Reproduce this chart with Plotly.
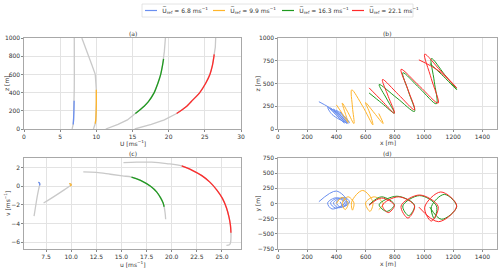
import plotly.graph_objects as go

# ---------------- data ----------------
series_labels = ["6.8", "9.9", "16.3", "22.1"]
colors = ["#6a8ff0", "#ffb52a", "#1f9a1f", "#ff2a2a"]
gray = "#c9c9c9"

# (a) wind-speed profiles U(z)
a_blue_z = [0, 25, 50, 100, 200, 310, 450, 600, 800, 1000]
a_blue_U = [6.65, 6.75, 6.8, 6.85, 6.9, 6.93, 6.95, 6.96, 6.96, 6.95]
a_orange_z = [0, 25, 60, 100, 200, 300, 430, 500, 600, 700, 800, 900, 1000]
a_orange_U = [9.6, 9.75, 9.85, 9.92, 9.98, 10.0, 10.0, 9.98, 9.85, 9.4, 8.9, 8.45, 8.0]
a_green_z = [0, 25, 50, 100, 170, 250, 300, 400, 500, 600, 700, 770, 850, 1000]
a_green_U = [11.3, 12.2, 13.0, 14.3, 15.4, 16.6, 17.2, 18.0, 18.5, 18.9, 19.15, 19.3, 19.4, 19.55]
a_red_z = [0, 25, 50, 100, 170, 250, 300, 400, 500, 600, 700, 820, 900, 1000]
a_red_U = [15.3, 16.6, 17.6, 19.4, 21.1, 22.5, 23.1, 24.3, 25.1, 25.7, 26.05, 26.3, 26.45, 26.5]
rotor_bottom = [50, 60, 170, 170]
rotor_top = [310, 430, 770, 820]

# (c) hodographs u-v ; colored part between index bounds
c_blue_u = [6.3, 6.45, 6.6, 6.75, 6.85, 6.87, 6.82, 6.72]
c_blue_v = [-3.2, -2.2, -1.2, -0.35, 0.1, 0.25, 0.38, 0.42]
c_orange_u = [7.25, 8.0, 9.0, 9.9, 10.0, 9.95, 9.8]
c_orange_v = [-1.8, -1.3, -0.6, 0.05, 0.15, 0.25, 0.28]
c_green_u = [11.2, 12.5, 13.9, 15.1, 16.0, 16.9, 17.9, 18.5, 18.9, 19.15, 19.25, 19.35, 19.4]
c_green_v = [1.55, 1.5, 1.3, 1.12, 1.0, 0.65, 0.0, -0.6, -1.25, -1.8, -2.2, -2.9, -3.55]
c_red_u = [15.2, 16.5, 18.0, 19.5, 21.0, 22.0, 23.0, 23.8, 24.5, 25.05, 25.45, 25.7, 25.85, 25.9, 25.9, 25.85, 25.75, 25.45]
c_red_v = [2.55, 2.6, 2.6, 2.45, 2.2, 1.75, 1.15, 0.45, -0.4, -1.3, -2.3, -3.3, -4.2, -5.0, -5.6, -6.1, -6.3, -6.35]
c_colored_range = [(4, 7), (3, 6), (4, 10), (4, 13)]

# (b),(d) trajectories x, y, z [m]
t_blue_x = [280, 400, 470, 370, 340, 400, 455, 395, 360, 415, 470, 415, 380, 435, 480, 430, 400, 455, 490, 450, 425]
t_blue_y = [30, 205, 40, -90, 10, 95, 10, -75, 10, 90, 10, -70, 10, 90, 15, -65, 20, 100, 25, -50, 30]
t_blue_z = [300, 185, 70, 160, 240, 155, 65, 160, 230, 150, 60, 150, 220, 145, 60, 145, 205, 140, 70, 135, 190]
t_orange_x = [400, 440, 480, 460, 440, 480, 520, 510, 505, 580, 650, 630, 600, 660, 720, 690]
t_orange_y = [0, 100, 0, -100, 10, 110, 10, -110, 30, 215, 20, -130, 10, 110, 0, -100]
t_orange_z = [265, 170, 70, 175, 285, 180, 60, 240, 430, 250, 45, 170, 290, 175, 60, 170]
t_green_x = [624, 710, 797, 745, 693, 815, 935, 895, 855, 970, 1085, 1070, 1051, 1140, 1224, 1120, 1040]
t_green_y = [-20, 110, -20, -130, -20, 120, -30, -200, -40, 130, -40, -250, -50, 150, -50, -260, -60]
t_green_z = [396, 285, 174, 330, 489, 340, 193, 405, 618, 448, 278, 525, 774, 600, 433, 600, 720]
t_red_x = [624, 710, 797, 755, 716, 825, 935, 890, 843, 970, 1097, 1050, 1005, 1115, 1224, 1100, 965]
t_red_y = [-30, 90, -30, -150, -30, 110, -40, -240, -40, 140, -50, -290, -60, 190, -40, -300, -60]
t_red_z = [452, 313, 174, 359, 544, 378, 211, 433, 656, 470, 285, 553, 822, 637, 452, 640, 760]

# ---------------- figure ----------------
fig = go.Figure()

a_profiles = [(a_blue_U, a_blue_z), (a_orange_U, a_orange_z), (a_green_U, a_green_z), (a_red_U, a_red_z)]
for i, (U, z) in enumerate(a_profiles):
    fig.add_trace(go.Scatter(x=U, y=z, mode="lines", line=dict(color=gray, width=1.3),
                             xaxis="x", yaxis="y", showlegend=False, hoverinfo="skip"))
    sel = [k for k in range(len(z)) if rotor_bottom[i] <= z[k] <= rotor_top[i]]
    fig.add_trace(go.Scatter(x=[U[k] for k in sel], y=[z[k] for k in sel], mode="lines",
                             line=dict(color=colors[i], width=1.3, shape="spline"),
                             xaxis="x", yaxis="y", showlegend=False))

c_curves = [(c_blue_u, c_blue_v), (c_orange_u, c_orange_v), (c_green_u, c_green_v), (c_red_u, c_red_v)]
for i, (u, v) in enumerate(c_curves):
    fig.add_trace(go.Scatter(x=u, y=v, mode="lines", line=dict(color=gray, width=1.3, shape="spline"),
                             xaxis="x3", yaxis="y3", showlegend=False, hoverinfo="skip"))
    s, e = c_colored_range[i]
    fig.add_trace(go.Scatter(x=u[s:e + 1], y=v[s:e + 1], mode="lines",
                             line=dict(color=colors[i], width=1.3, shape="spline"),
                             xaxis="x3", yaxis="y3", showlegend=False))

trajs = [(t_blue_x, t_blue_y, t_blue_z), (t_orange_x, t_orange_y, t_orange_z),
         (t_green_x, t_green_y, t_green_z), (t_red_x, t_red_y, t_red_z)]
for i, (x, y, z) in enumerate(trajs):
    fig.add_trace(go.Scatter(x=x, y=z, mode="lines",
                             line=dict(color=colors[i], width=1.0, shape="spline", smoothing=1.0),
                             xaxis="x2", yaxis="y2", showlegend=False))
    fig.add_trace(go.Scatter(x=x, y=y, mode="lines",
                             line=dict(color=colors[i], width=1.0, shape="spline", smoothing=1.0),
                             xaxis="x4", yaxis="y4", showlegend=False))

W, H = 500, 268
def px_x(p):
    return p / W
def px_y(p):
    return 1 - p / H

left_dom = [px_x(24), px_x(241)]
right_dom = [px_x(278), px_x(497)]
top_dom = [px_y(129), px_y(38)]
bot_dom = [px_y(249), px_y(158)]

tickfont = dict(family="DejaVu Sans", size=6, color="#333")
def ax(domain, rng, anchor, **kw):
    d = dict(domain=domain, range=rng, anchor=anchor, showline=True, mirror=True,
             linecolor="#a8a8a8", linewidth=1.2, showgrid=True, gridcolor="#e3e3e3",
             gridwidth=0.8, zeroline=False, ticks="outside", ticklen=1.5, tickwidth=0.6,
             tickcolor="#888", tickfont=tickfont, automargin=False)
    d.update(kw)
    return d

fig.update_layout(
    width=W, height=H, margin=dict(l=0, r=0, t=0, b=0),
    paper_bgcolor="white", plot_bgcolor="white", showlegend=False,
    xaxis=ax(left_dom, [0, 30], "y", tickvals=[0, 5, 10, 15, 20, 25, 30]),
    yaxis=ax(top_dom, [0, 1000], "x", tickvals=[0, 200, 400, 600, 800, 1000]),
    xaxis2=ax(right_dom, [0, 1500], "y2", tickvals=[0, 200, 400, 600, 800, 1000, 1200, 1400]),
    yaxis2=ax(top_dom, [0, 1000], "x2", tickvals=[0, 250, 500, 750, 1000]),
    xaxis3=ax(left_dom, [5.3, 26.9], "y3", tickvals=[7.5, 10, 12.5, 15, 17.5, 20, 22.5, 25],
              ticktext=["7.5", "10.0", "12.5", "15.0", "17.5", "20.0", "22.5", "25.0"]),
    yaxis3=ax(bot_dom, [-6.75, 3.05], "x3", tickvals=[-6, -4, -2, 0, 2],
              ticktext=["\u22126", "\u22124", "\u22122", "0", "2"]),
    xaxis4=ax(right_dom, [0, 1500], "y4", tickvals=[0, 200, 400, 600, 800, 1000, 1200, 1400]),
    yaxis4=ax(bot_dom, [-750, 750], "x4", tickvals=[-750, -500, -250, 0, 250, 500, 750],
              ticktext=["\u2212750", "\u2212500", "\u2212250", "0", "250", "500", "750"]),
)

txt = dict(family="DejaVu Sans", size=6, color="#333")
annots = [
    ("(a)", (24 + 241) / 2, 33.5, 0), ("(b)", (278 + 497) / 2, 33.5, 0),
    ("(c)", (24 + 241) / 2, 153, 0), ("(d)", (278 + 497) / 2, 153, 0),
    ("U [ms<sup>\u22121</sup>]", (24 + 241) / 2, 142.5, 0), ("x [m]", (278 + 497) / 2, 142.5, 0),
    ("u [ms<sup>\u22121</sup>]", (24 + 241) / 2, 263.5, 0), ("x [m]", (278 + 497) / 2, 263, 0),
    ("z [m]", 6.5, (38 + 129) / 2, -90), ("z [m]", 257, (38 + 129) / 2, -90),
    ("v [ms<sup>\u22121</sup>]", 6.5, (158 + 249) / 2, -90), ("y [m]", 257, (158 + 249) / 2, -90),
]
for t, x, y, ang in annots:
    fig.add_annotation(text=t, x=px_x(x), y=px_y(y), xref="paper", yref="paper",
                       showarrow=False, font=txt, textangle=ang, xanchor="center", yanchor="middle")

# legend (manual)
fig.add_shape(type="rect", xref="paper", yref="paper", x0=px_x(142), x1=px_x(413),
              y0=px_y(17), y1=px_y(4), line=dict(color="#dddddd", width=0.8), fillcolor="white")
leg_line_x = [145, 213, 282, 352]
for i, lab in enumerate(series_labels):
    x0 = leg_line_x[i]
    fig.add_shape(type="line", xref="paper", yref="paper", x0=px_x(x0), x1=px_x(x0 + 12),
                  y0=px_y(10.5), y1=px_y(10.5), line=dict(color=colors[i], width=1.2))
    fig.add_annotation(text="U\u0305<sub>ref</sub> = " + lab + " ms<sup>\u22121</sup>",
                       x=px_x(x0 + 15), y=px_y(10.5), xref="paper", yref="paper",
                       showarrow=False, font=dict(family="DejaVu Sans", size=6, color="#333"),
                       xanchor="left", yanchor="middle")

fig.write_html("out.html", config={"displayModeBar": False},
               post_script="document.body.style.margin='0px';")
